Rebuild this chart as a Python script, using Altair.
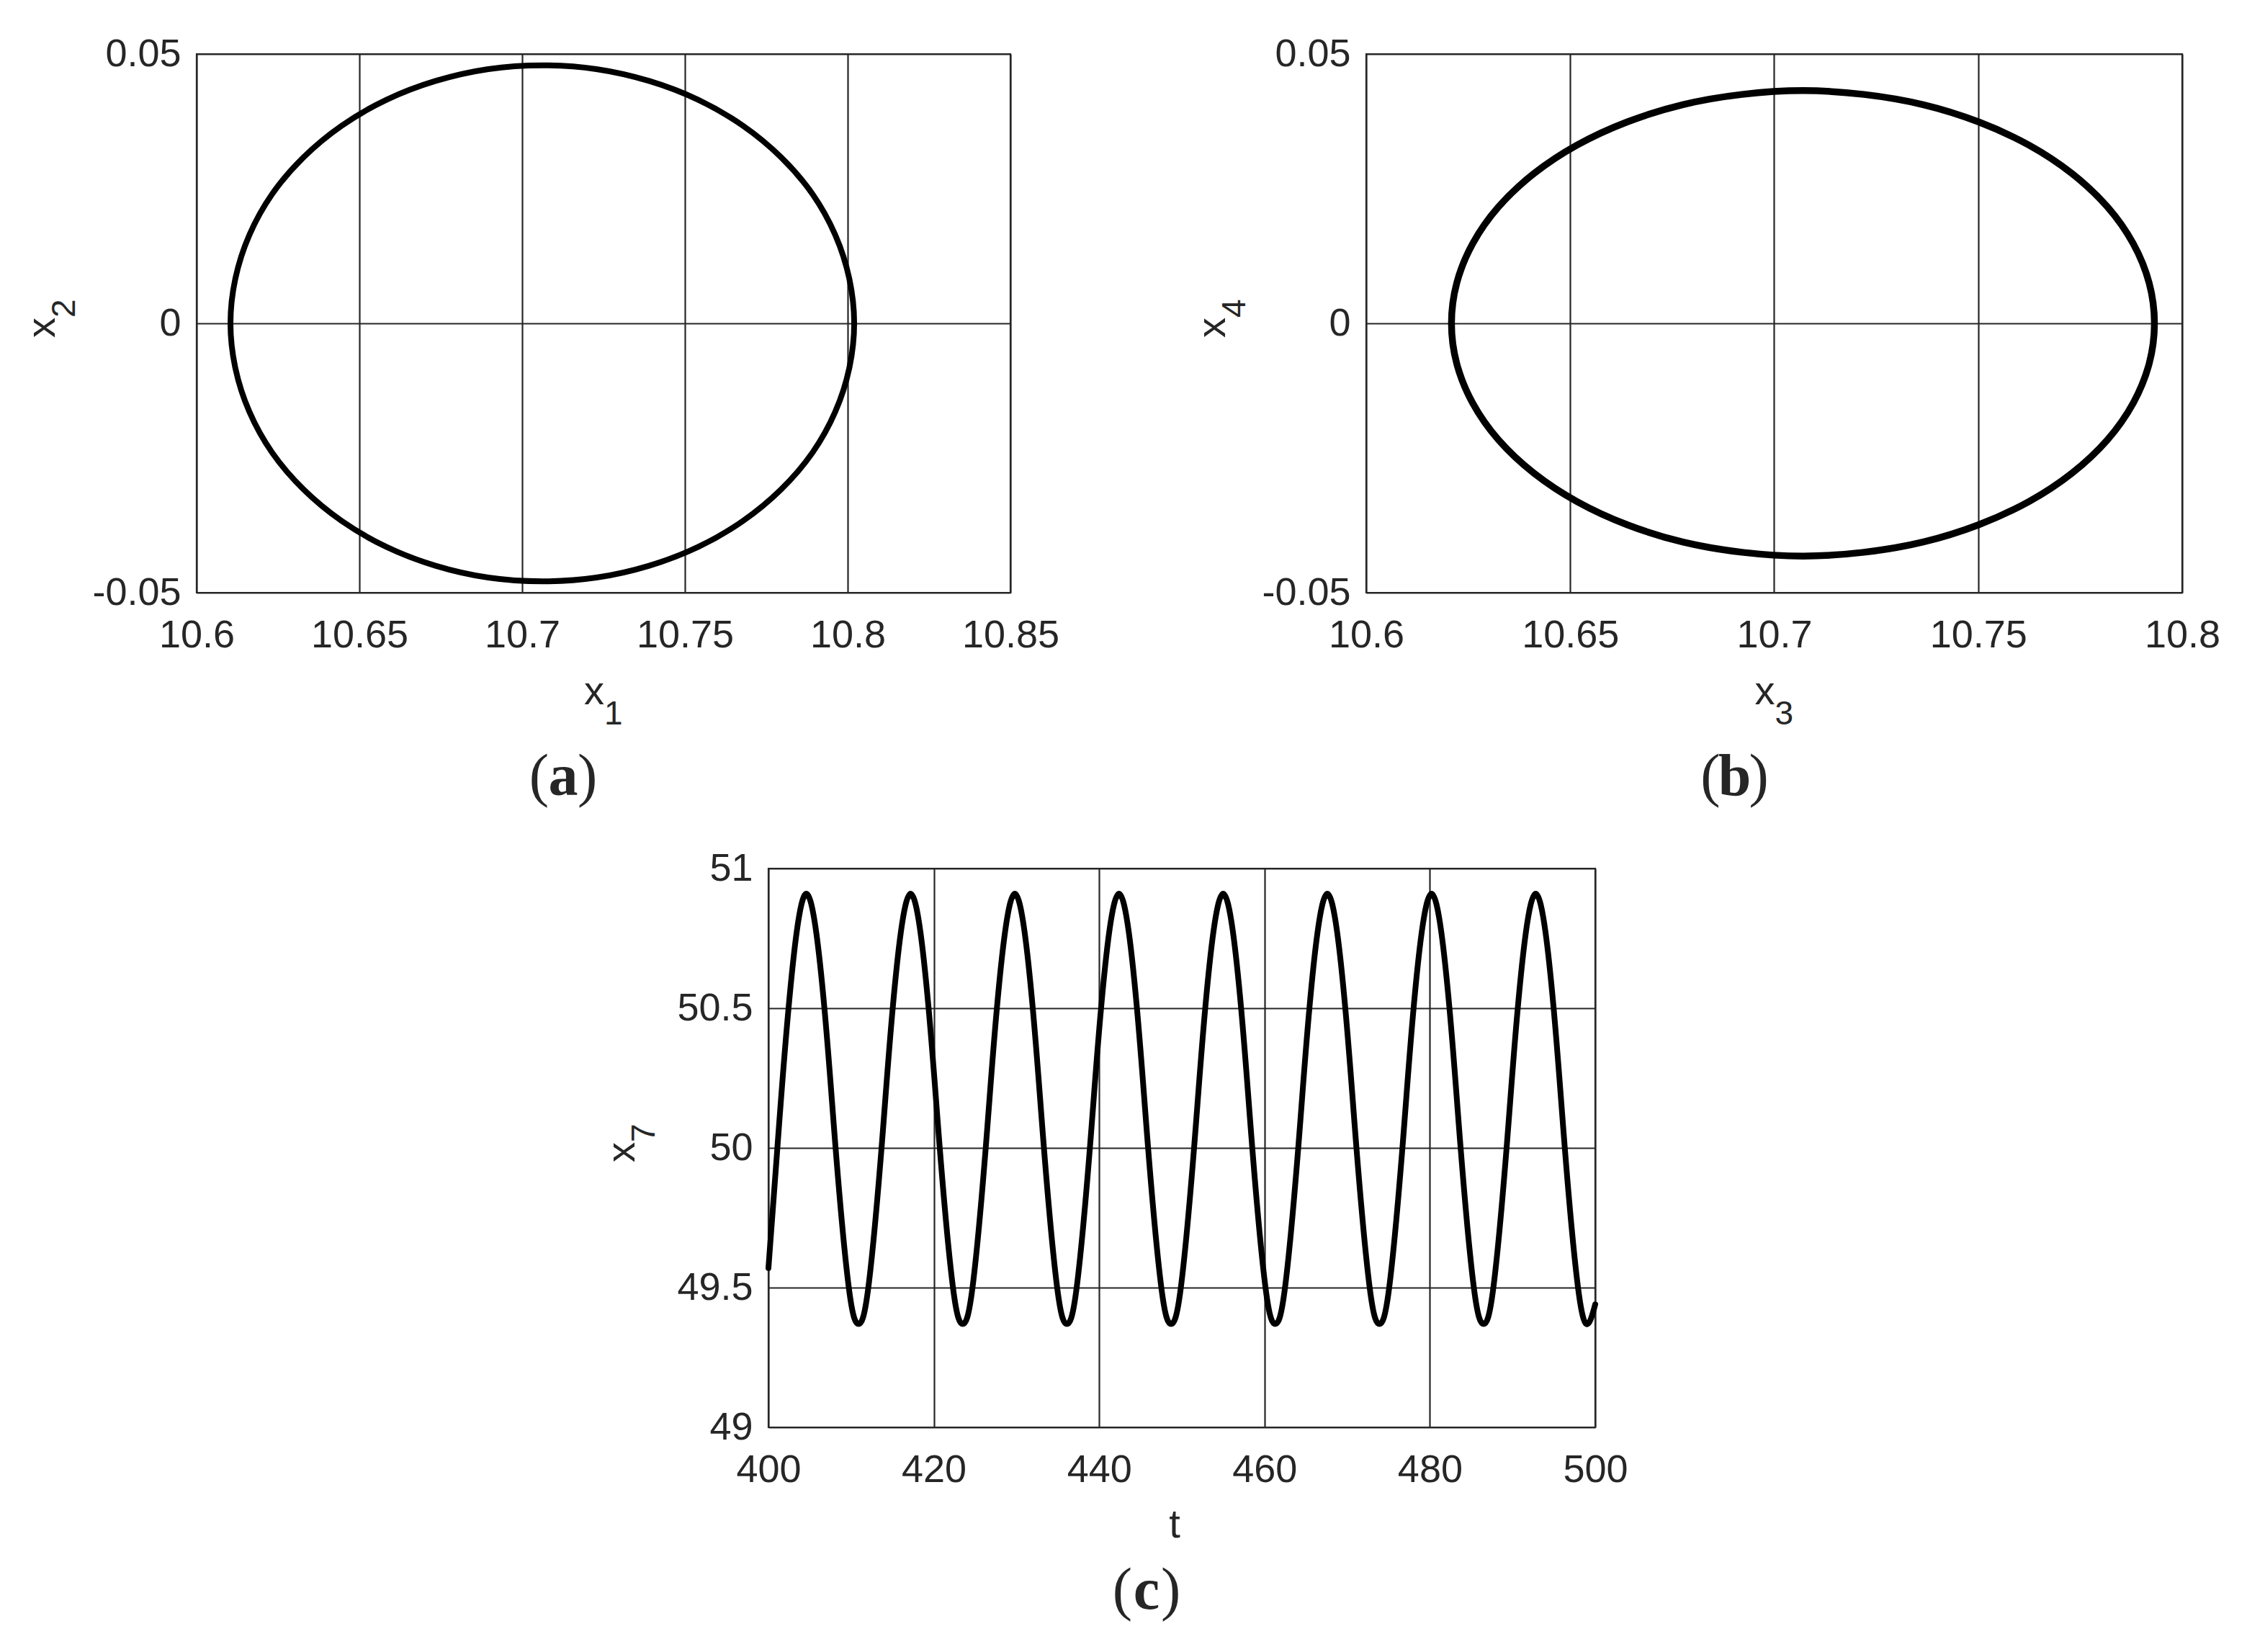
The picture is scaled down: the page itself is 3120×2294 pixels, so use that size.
import altair as alt
import pandas as pd

# ---------------- data ----------------
# Panel (a): closed orbit in the (x1, x2) plane, counter-clockwise from the right tip
x1 = [10.8020, 10.8005, 10.7962, 10.7892, 10.7796, 10.7678, 10.7541, 10.7390, 10.7228,
      10.7062, 10.6896, 10.6734, 10.6583, 10.6446, 10.6328, 10.6232, 10.6162, 10.6119,
      10.6104, 10.6119, 10.6162, 10.6232, 10.6328, 10.6446, 10.6583, 10.6734, 10.6896,
      10.7062, 10.7228, 10.7390, 10.7541, 10.7678, 10.7796, 10.7892, 10.7962, 10.8005]
x2 = [0.0, 0.0083, 0.0164, 0.0240, 0.0308, 0.0367, 0.0415, 0.0450, 0.0472,
      0.0479, 0.0472, 0.0450, 0.0415, 0.0367, 0.0308, 0.0240, 0.0164, 0.0083,
      0.0, -0.0083, -0.0164, -0.0240, -0.0308, -0.0367, -0.0415, -0.0450, -0.0472,
      -0.0479, -0.0472, -0.0450, -0.0415, -0.0367, -0.0308, -0.0240, -0.0164, -0.0083]

# Panel (b): closed orbit in the (x3, x4) plane
x3 = [10.7932, 10.7919, 10.7880, 10.7817, 10.7730, 10.7624, 10.7501, 10.7365, 10.7220,
      10.7071, 10.6921, 10.6776, 10.6640, 10.6517, 10.6411, 10.6324, 10.6261, 10.6222,
      10.6209, 10.6222, 10.6261, 10.6324, 10.6411, 10.6517, 10.6640, 10.6776, 10.6921,
      10.7071, 10.7220, 10.7365, 10.7501, 10.7624, 10.7730, 10.7817, 10.7880, 10.7919]
x4 = [0.0, 0.0075, 0.0148, 0.0216, 0.0278, 0.0331, 0.0374, 0.0406, 0.0425,
      0.0432, 0.0425, 0.0406, 0.0374, 0.0331, 0.0278, 0.0216, 0.0148, 0.0075,
      0.0, -0.0075, -0.0148, -0.0216, -0.0278, -0.0331, -0.0374, -0.0406, -0.0425,
      -0.0432, -0.0425, -0.0406, -0.0374, -0.0331, -0.0278, -0.0216, -0.0148, -0.0075]

# Panel (c): time series x7(t) (peaks, troughs and grid-line crossings)
t = [400.0, 401.08, 402.43, 404.6, 406.77, 408.12, 409.72, 410.9, 412.08, 413.68, 415.03,
     417.2, 419.37, 420.72, 422.32, 423.5, 424.68, 426.28, 427.63,
     429.8, 431.97, 433.32, 434.92, 436.1, 437.28, 438.88, 440.23,
     442.4, 444.57, 445.92, 447.52, 448.7, 449.88, 451.48, 452.83,
     455.0, 457.17, 458.52, 460.12, 461.3, 462.48, 464.08, 465.43,
     467.6, 469.77, 471.12, 472.72, 473.9, 475.08, 476.68, 478.03,
     480.2, 482.37, 483.72, 485.32, 486.5, 487.68, 489.28, 490.63,
     492.8, 494.97, 496.32, 497.92, 499.1, 500.0]
x7 = [49.57, 50.0, 50.5, 50.91, 50.5, 50.0, 49.5, 49.37, 49.5, 50.0, 50.5,
      50.91, 50.5, 50.0, 49.5, 49.37, 49.5, 50.0, 50.5,
      50.91, 50.5, 50.0, 49.5, 49.37, 49.5, 50.0, 50.5,
      50.91, 50.5, 50.0, 49.5, 49.37, 49.5, 50.0, 50.5,
      50.91, 50.5, 50.0, 49.5, 49.37, 49.5, 50.0, 50.5,
      50.91, 50.5, 50.0, 49.5, 49.37, 49.5, 50.0, 50.5,
      50.91, 50.5, 50.0, 49.5, 49.37, 49.5, 50.0, 50.5,
      50.91, 50.5, 50.0, 49.5, 49.37, 49.44]

# tick values
a_xticks = [10.6, 10.65, 10.7, 10.75, 10.8, 10.85]
b_xticks = [10.6, 10.65, 10.7, 10.75, 10.8]
ab_yticks = [-0.05, 0, 0.05]
c_xticks = [400, 420, 440, 460, 480, 500]
c_yticks = [49, 49.5, 50, 50.5, 51]

# ---------------- styling ----------------
FONT = "Liberation Sans"
SERIF = "Liberation Serif"
INK = "#262626"
TICK_FS = 54
TITLE_FS = 56
SUB_FS = 46
LAB_FS = 82
LABEL_EXPR = "replace(datum.label, '\u2212', '-')"


def make_axis(values, pad):
    return alt.Axis(values=values, format=".6~r", labelExpr=LABEL_EXPR, grid=True,
                    gridColor=INK, gridWidth=2.2, gridOpacity=1, domain=False,
                    ticks=False, labelFont=FONT, labelFontSize=TICK_FS, labelColor=INK,
                    labelPadding=pad, labelFlush=False, labelOverlap=False,
                    labelBound=False, title="")


def txt(s, x, y, size, align, angle=0, weight="normal", font=FONT):
    return alt.Chart(pd.DataFrame({"s": [s]})).mark_text(
        align=align, baseline="alphabetic", fontSize=size, font=font,
        fontWeight=weight, color=INK, angle=angle
    ).encode(text="s:N", x=alt.value(x), y=alt.value(y))


def panel(xs, ys, xdom, xticks, ydom, yticks, W, H, xname, xsub, yname, ysub,
          letter, label_dx, label_dy, ytitle_x, closed, stroke):
    df = pd.DataFrame({"x": xs, "y": ys, "i": list(range(len(xs)))})
    curve = alt.Chart(df).mark_line(
        interpolate="cardinal-closed" if closed else "natural",
        color="black", strokeWidth=stroke, strokeJoin="round", strokeCap="round"
    ).encode(
        x=alt.X("x:Q", scale=alt.Scale(domain=xdom, nice=False, zero=False),
                axis=make_axis(xticks, 32)),
        y=alt.Y("y:Q", scale=alt.Scale(domain=ydom, nice=False, zero=False),
                axis=make_axis(yticks, 22)),
        order="i:Q",
    )
    layers = [curve]
    cx = W / 2
    # x-axis title
    if xsub:
        layers.append(txt(xname, cx + 1, H + 155, TITLE_FS, "right"))
        layers.append(txt(xsub, cx + 1, H + 183, SUB_FS, "left"))
    else:
        layers.append(txt(xname, cx - 10, H + 153, TITLE_FS, "center"))
    # y-axis title (rotated)
    layers.append(txt(yname, ytitle_x, H / 2 - 8, TITLE_FS, "right", angle=270))
    layers.append(txt(ysub, ytitle_x + 28, H / 2 - 8, SUB_FS, "left", angle=270))
    # panel label "(a)"
    lx = cx + label_dx
    ly = H + label_dy
    layers.append(txt("(", lx - 20, ly, LAB_FS, "right", font=SERIF))
    layers.append(txt(letter, lx, ly, LAB_FS, "center", weight="bold", font=SERIF))
    layers.append(txt(")", lx + 20, ly, LAB_FS, "left", font=SERIF))
    return alt.layer(*layers).properties(width=W, height=H)


pa = panel(x1, x2, [10.6, 10.85], a_xticks, [-0.05, 0.05], ab_yticks, 1130, 748,
           "x", "1", "x", "2", "a", -56, 281, -197, True, 8)
pb = panel(x3, x4, [10.6, 10.8], b_xticks, [-0.05, 0.05], ab_yticks, 1133, 748,
           "x", "3", "x", "4", "b", -55, 281, -196, True, 9.5)
pc = panel(t, x7, [400, 500], c_xticks, [49, 51], c_yticks, 1148, 776,
           "t", "", "x", "7", "c", -49, 252, -186, False, 8)

spacer = alt.Chart(pd.DataFrame({"s": [""]})).mark_text().encode(
    text="s:N", x=alt.value(0), y=alt.value(0)
).properties(width=794, height=10, view=alt.ViewBackground(strokeOpacity=0))

top_row = alt.hconcat(pa, pb, spacing=494, bounds="flush")
bottom_row = alt.hconcat(spacer, pc, spacing=0, bounds="flush")

chart = alt.vconcat(top_row, bottom_row, spacing=55).properties(
    padding={"left": 21, "top": 38, "right": 10, "bottom": 10},
    background="white",
).configure_view(
    stroke=INK, strokeWidth=2.2
)

chart.save("out.html", embed_options={"renderer": "svg", "actions": False})
